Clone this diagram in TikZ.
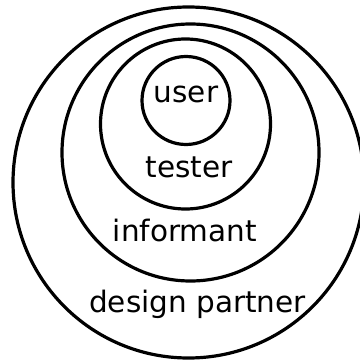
\documentclass[tikz,border=0pt]{standalone}
\usepackage{fontspec}
\setmainfont{DejaVu Sans}
\begin{document}
\begin{tikzpicture}[x=1pt,y=-1pt,
  ring/.style={draw=black,line width=3.2pt},
  lbl/.style={anchor=base,inner sep=0pt,font=\fontsize{29.5}{33}\selectfont}]
\useasboundingbox (0,0) rectangle (359,363);
\fill[white] (0,0) rectangle (359,363);
\draw[ring] (188.5,182.5) circle[radius=175.5pt];
\draw[ring] (190.5,152.5) circle[radius=128.5pt];
\draw[ring] (185.5,124) circle[radius=85pt];
\draw[ring] (186,100.5) circle[radius=44pt];
\node[lbl] (user) at (186,103) {user};
\node[lbl] (tester) at (189,177) {tester};
\node[lbl] (informant) at (185,241) {informant};
\node[lbl] (partner) at (197.5,312) {design partner};
\end{tikzpicture}
\end{document}
